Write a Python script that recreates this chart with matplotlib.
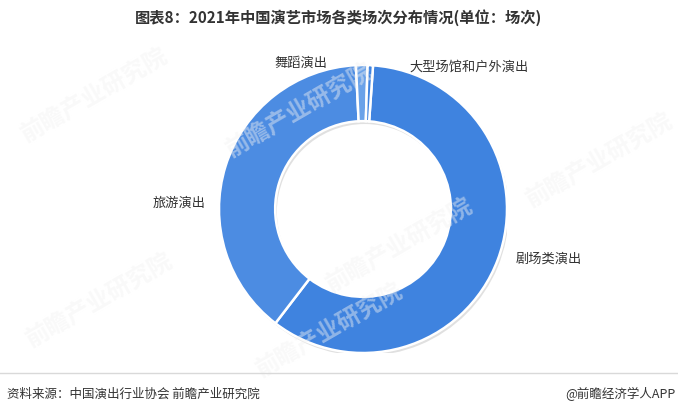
import matplotlib.pyplot as plt
from matplotlib.patches import Wedge

plt.rcParams['font.family'] = ['Noto Sans CJK SC', 'DejaVu Sans']

categories = ['剧场类演出', '旅游演出', '舞蹈演出', '大型场馆和户外演出']
shares = [59.3, 38.8, 1.3, 0.6]
colors = ['#3f83df', '#4c8ce2', '#6aa2e9', '#3f83df']

title = '图表8：2021年中国演艺市场各类场次分布情况(单位：场次)'
source = '资料来源：中国演出行业协会 前瞻产业研究院'
brand = '@前瞻经济学人APP'

W, H = 678, 416
fig = plt.figure(figsize=(W / 100, H / 100), dpi=100)

# donut axes: centre (363, 209) px, outer radius 144 px
cx, cy, r = 363, 209, 144
ax = fig.add_axes([(cx - r) / W, (H - cy - r) / H, 2 * r / W, 2 * r / H])

# soft shadow behind the ring
ax.add_patch(Wedge((0.012, -0.02), 1.0, 0, 360, width=0.39, facecolor='#c8c8c8',
                   edgecolor='none', alpha=0.55, zorder=0))

wedges, _ = ax.pie(shares, colors=colors, startangle=86, counterclock=False,
                   radius=1.0, wedgeprops=dict(width=0.39, edgecolor='white', linewidth=1.8))
for w in wedges:
    w.set_zorder(2)
ax.set_xlim(-1, 1)
ax.set_ylim(-1, 1)
ax.axis('off')

# slice labels
label_pos = {
    '剧场类演出': (549, 259, 'center'),
    '旅游演出': (179, 203, 'center'),
    '舞蹈演出': (301, 63, 'center'),
    '大型场馆和户外演出': (469, 67, 'center'),
}
for name in categories:
    x, y, ha = label_pos[name]
    fig.text(x / W, 1 - y / H, name, ha=ha, va='center', fontsize=9.5, color='#333333')

# faint watermarks
for (x, y) in [(95, 95), (300, 110), (600, 160), (100, 300), (330, 330), (400, 245)]:
    fig.text(x / W, 1 - y / H, '前瞻产业研究院', fontsize=17, color='#f2f2f2', alpha=0.45,
             rotation=30, ha='center', va='center', fontweight='bold', zorder=0)

fig.text(339 / W, 1 - 18 / H, title, ha='center', va='center', fontsize=11,
         fontweight='bold', color='#333333')

# divider line and footer
fig.add_artist(plt.Line2D([0, 1], [1 - 373 / H, 1 - 373 / H], color='#d9d9d9', linewidth=1))
fig.text(7 / W, 1 - 394 / H, source, ha='left', va='center', fontsize=9, color='#333333')
fig.text(676 / W, 1 - 394 / H, brand, ha='right', va='center', fontsize=9, color='#333333')

fig.savefig('out.png', dpi=100, facecolor='white')
